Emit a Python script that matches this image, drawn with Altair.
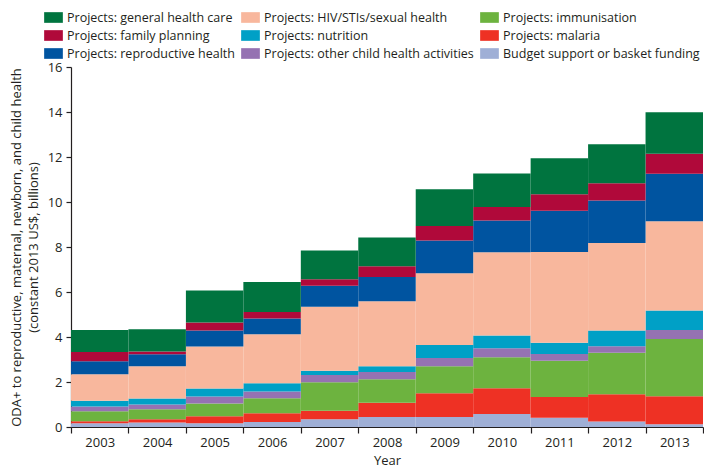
import altair as alt
import pandas as pd

years = [2003, 2004, 2005, 2006, 2007, 2008, 2009, 2010, 2011, 2012, 2013]

budget = [0.17, 0.20, 0.17, 0.22, 0.35, 0.44, 0.44, 0.58, 0.41, 0.25, 0.12]
malaria = [0.09, 0.14, 0.31, 0.39, 0.37, 0.64, 1.06, 1.14, 0.92, 1.21, 1.25]
immunisation = [0.44, 0.45, 0.56, 0.67, 1.27, 1.04, 1.20, 1.38, 1.62, 1.84, 2.54]
other_child = [0.21, 0.21, 0.32, 0.30, 0.32, 0.33, 0.37, 0.40, 0.30, 0.29, 0.40]
nutrition = [0.26, 0.27, 0.35, 0.36, 0.19, 0.25, 0.58, 0.57, 0.50, 0.70, 0.87]
hiv = [1.17, 1.43, 1.87, 2.18, 2.84, 2.89, 3.18, 3.70, 4.03, 3.89, 3.97]
reproductive = [0.58, 0.53, 0.71, 0.70, 0.94, 1.08, 1.46, 1.41, 1.83, 1.89, 2.11]
family_planning = [0.41, 0.13, 0.35, 0.29, 0.29, 0.48, 0.64, 0.60, 0.73, 0.76, 0.89]
general = [0.98, 0.98, 1.43, 1.34, 1.28, 1.27, 1.64, 1.49, 1.60, 1.74, 1.84]

# bottom-to-top stacking order
stack_series = [
    ("Budget support or basket funding", budget, "#9FAFD6"),
    ("Projects: malaria", malaria, "#EE3124"),
    ("Projects: immunisation", immunisation, "#6DB33F"),
    ("Projects: other child health activities", other_child, "#9572B2"),
    ("Projects: nutrition", nutrition, "#00A0C6"),
    ("Projects: HIV/STIs/sexual health", hiv, "#F8B79D"),
    ("Projects: reproductive health", reproductive, "#0054A0"),
    ("Projects: family planning", family_planning, "#B0093A"),
    ("Projects: general health care", general, "#00743F"),
]

# legend order (filled column by column, 3 columns)
legend_order = [
    "Projects: general health care",
    "Projects: family planning",
    "Projects: reproductive health",
    "Projects: HIV/STIs/sexual health",
    "Projects: nutrition",
    "Projects: other child health activities",
    "Projects: immunisation",
    "Projects: malaria",
    "Budget support or basket funding",
]
color_of = {name: col for name, _, col in stack_series}

rows = []
for i, (name, vals, _) in enumerate(stack_series):
    for y, v in zip(years, vals):
        rows.append({"year": y, "category": name, "value": v, "stackorder": i})
df = pd.DataFrame(rows)

FONT = "Open Sans"
TXT = "#231F20"

chart = (
    alt.Chart(df)
    .mark_bar(strokeWidth=0)
    .encode(
        x=alt.X(
            "year:O",
            title="Year",
            scale=alt.Scale(paddingInner=0, paddingOuter=0),
            axis=alt.Axis(
                tickBand="extent",
                labelAngle=0,
                tickSize=6,
                labelPadding=3,
                titlePadding=5,
            ),
        ),
        y=alt.Y(
            "value:Q",
            stack="zero",
            scale=alt.Scale(domain=[0, 16], nice=False),
            title=[
                "ODA+ to reproductive, maternal, newborn, and child health",
                "(constant 2013 US$, billions)",
            ],
            axis=alt.Axis(
                values=[0, 2, 4, 6, 8, 10, 12, 14, 16],
                tickSize=5,
                labelPadding=4,
                titlePadding=7,
                titleLineHeight=17,
                grid=False,
            ),
        ),
        color=alt.Color(
            "category:N",
            scale=alt.Scale(domain=legend_order, range=[color_of[n] for n in legend_order]),
            legend=alt.Legend(
                title=None,
                orient="none",
                legendX=-27,
                legendY=-59,
                columns=3,
                symbolType="M-1,-0.57H1V0.57H-1Z",
                symbolSize=350,
                symbolStrokeWidth=0,
                symbolOpacity=1,
                labelFontSize=12.5,
                labelFont=FONT,
                labelColor=TXT,
                labelOffset=4,
                rowPadding=2,
                columnPadding=6,
                labelLimit=400,
            ),
        ),
        order=alt.Order("stackorder:Q", sort="ascending"),
    )
    .properties(
        width=632,
        height=360,
        padding={"left": 2, "top": 0, "right": 0, "bottom": 0},
    )
    .configure_view(stroke=None)
    .configure_axis(
        labelFont=FONT,
        titleFont=FONT,
        labelFontSize=13,
        titleFontSize=13,
        titleFontWeight="normal",
        labelColor=TXT,
        titleColor=TXT,
        domainColor=TXT,
        tickColor=TXT,
        domainWidth=1.2,
        tickWidth=1.2,
    )
)

chart.save("out.html", embed_options={"renderer": "svg", "actions": False})
